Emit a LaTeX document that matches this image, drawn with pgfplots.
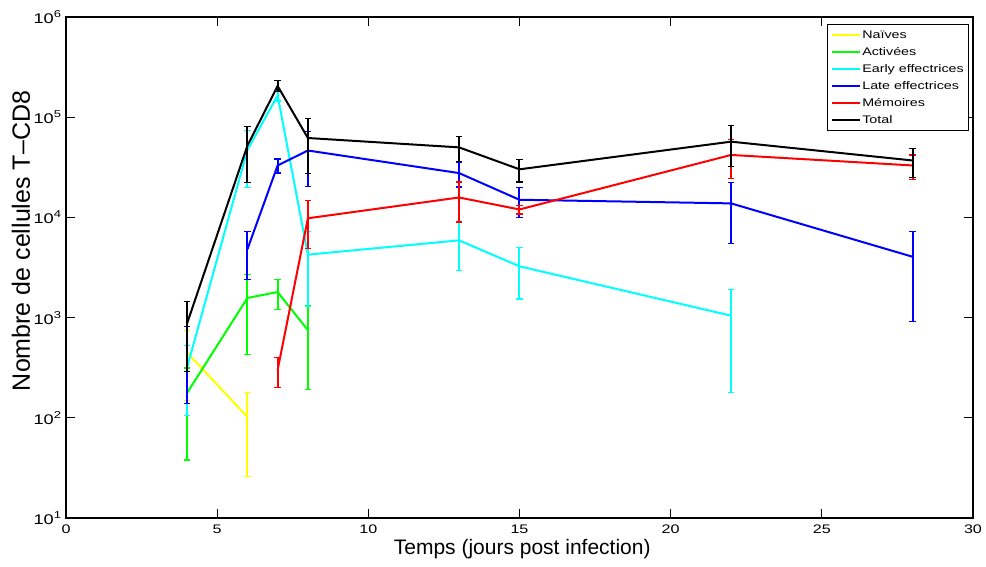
\documentclass[border=0pt]{standalone}
\usepackage{fontspec}
\setmainfont{Liberation Sans}
\usepackage{graphicx}
\usepackage{pgfplots}
\pgfplotsset{compat=1.18}
\definecolor{cyanm}{RGB}{0,255,255}
\definecolor{greenm}{RGB}{0,255,0}
\definecolor{yellowm}{RGB}{255,255,0}
\definecolor{bluem}{RGB}{0,0,255}
\definecolor{redm}{RGB}{255,0,0}
\pgfplotsset{
  eb/.style={line width=1pt, mark=none,
    error bars/.cd, y dir=both, y explicit,
    error bar style={line width=1pt},
    error mark options={rotate=90, mark size=1.6pt, line width=0.6pt},
    /pgfplots/.cd},
}
\begin{document}
\begin{tikzpicture}
\begin{axis}[
  at={(0,0)}, anchor=south west,
  scale only axis, width=453.5pt, height=250.5pt,
  xmin=0, xmax=30,
  ymode=log, log basis y=10, ymin=10, ymax=1e6,
  xtick={0,5,...,30},
  ytick={10,100,1000,10000,100000,1000000},
  yticklabels={10\textsuperscript{1},10\textsuperscript{2},10\textsuperscript{3},10\textsuperscript{4},10\textsuperscript{5},10\textsuperscript{6}},
  /pgf/number format/assume math mode=true,
  tick align=inside, tick pos=both,
  major tick length=4.5pt, minor tick length=2pt,
  axis line style={line width=0.65pt},
  every tick/.style={black, line width=0.5pt},
  xticklabel style={font=\fontsize{6.2}{7}\selectfont, xscale=1.3},
  yticklabel style={font=\fontsize{7}{8}\selectfont, xscale=1.3, inner xsep=1.2pt},
  xlabel={Temps (jours post infection)},
  ylabel={Nombre de cellules T–CD8},
  xlabel style={font=\fontsize{10.5}{12}\selectfont, at={(axis description cs:0.503,-0.062)}, anchor=center},
  ylabel style={font=\fontsize{12.5}{14}\selectfont, at={(axis description cs:-0.0496,0.553)}, anchor=center},
  legend style={at={(axis description cs:0.9956,0.986)}, anchor=north east,
    draw=black, line width=0.65pt, font=\fontsize{5.5}{6}\selectfont,
    row sep=0pt, inner xsep=1.5pt, inner ysep=1pt,
    nodes={inner xsep=0.8pt, inner ysep=1.25pt, text height=4.5pt, text depth=1.5pt}},
  legend cell align=left,
  legend image code/.code={\draw[#1, line width=1pt] (0pt,0pt) -- (14pt,0pt);},
]
\addplot[yellowm, eb] coordinates {
  (4,450) +- (0,300)
  (6,102) +- (0,76)
};
\addlegendentry{\scalebox{1.3}[1]{Naïves}}
\addplot[greenm, eb] coordinates {
  (4,176) +- (0,138)
  (6,1570) +- (0,1140)
  (7,1800) +- (0,600)
  (8,750) +- (0,560)
};
\addlegendentry{\scalebox{1.3}[1]{Activées}}
\addplot[cyanm, eb] coordinates {
  (4,315) +- (0,210)
  (6,47000) +- (0,27000)
  (7,165000) +- (0,20000)
  (8,4250) +- (0,2950)
  (13,5900) +- (0,2950)
  (15,3250) +- (0,1720)
  (22,1045) +- (0,865)
};
\addlegendentry{\scalebox{1.3}[1]{Early effectrices}}
\addplot[bluem, eb] coordinates {
  (6,4800) +- (0,2400)
  (7,33000) +- (0,5300)
  (8,46500) +- (0,26000)
  (13,27700) +- (0,7600)
  (15,15000) +- (0,5000)
  (22,13800) +- (0,8300)
  (28,4050) +- (0,3130)
};
\addlegendentry{\scalebox{1.3}[1]{Late effectrices}}
\addplot[bluem, forget plot, eb] coordinates {
  (4,475) +- (0,337)
};
\addplot[redm, eb] coordinates {
  (7,300) +- (0,100)
  (8,9800) +- (0,4900)
  (13,15800) +- (0,6800)
  (15,12000) +- (0,1200)
  (22,42000) +- (0,17700)
  (28,33000) +- (0,9000)
};
\addlegendentry{\scalebox{1.3}[1]{Mémoires}}
\addplot[black, eb] coordinates {
  (4,865) +- (0,575)
  (6,52000) +- (0,29500)
  (7,205000) +- (0,26000)
  (8,62000) +- (0,34500)
  (13,50000) +- (0,14000)
  (15,30200) +- (0,7600)
  (22,57000) +- (0,25000)
  (28,37000) +- (0,12000)
};
\addlegendentry{\scalebox{1.3}[1]{Total}}
\end{axis}
\pgfresetboundingbox
\path (-33pt,-24.5pt) rectangle (460pt,259pt);
\end{tikzpicture}
\end{document}
